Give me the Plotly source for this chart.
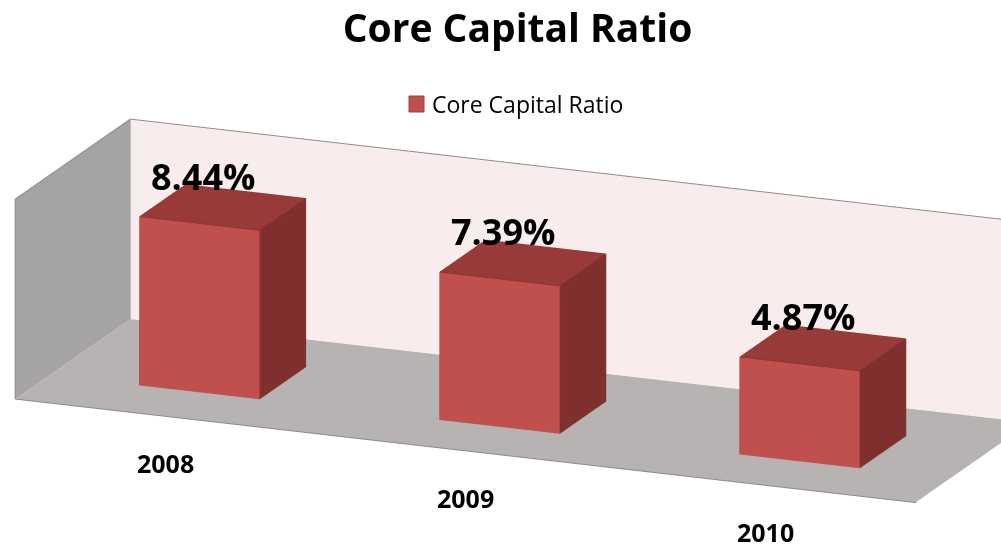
import plotly.graph_objects as go

# ---------------- data ----------------
categories = ["2008", "2009", "2010"]
values = [8.44, 7.39, 4.87]
value_labels = ["8.44%", "7.39%", "4.87%"]
series_name = "Core Capital Ratio"
chart_title = "Core Capital Ratio"

# ---------------- style ----------------
X_RANGE = (-0.5, len(categories) - 0.5)
Y_RANGE = (0.0, 1.0)
Z_RANGE = (0.0, 10.0)
BAR_HALF = 0.2
BAR_Y = (0.3, 0.7)

FRONT = "#c0504d"
TOP = "#983b38"
SIDE = "#7f302e"
EDGE = "#8a2e2b"
FLOOR = "#b8b3b3"
LEFTWALL = "#a6a3a3"
BACKWALL = "#f9ecec"
WALL_EDGE = "#8c8a8a"

FLAT = dict(ambient=1.0, diffuse=0.0, specular=0.0, roughness=1.0, fresnel=0.0)

I_ = [0, 0, 4, 4, 0, 0, 3, 3, 0, 0, 1, 1]
J_ = [1, 2, 5, 6, 1, 5, 2, 6, 3, 7, 2, 6]
K_ = [2, 3, 6, 7, 5, 4, 6, 7, 7, 4, 6, 5]


def box(x0, x1, y0, y1, z0, z1):
    xs = [x0, x1, x1, x0, x0, x1, x1, x0]
    ys = [y0, y0, y1, y1, y0, y0, y1, y1]
    zs = [z0, z0, z0, z0, z1, z1, z1, z1]
    return xs, ys, zs


def edges(xs, ys, zs):
    pairs = [(0, 1), (1, 2), (2, 3), (3, 0), (4, 5), (5, 6), (6, 7), (7, 4),
             (0, 4), (1, 5), (2, 6), (3, 7)]
    ex, ey, ez = [], [], []
    for a, b in pairs:
        ex += [xs[a], xs[b], None]
        ey += [ys[a], ys[b], None]
        ez += [zs[a], zs[b], None]
    return ex, ey, ez


fig = go.Figure()

# walls / floor (chart frame)
x0, x1 = X_RANGE
y0, y1 = Y_RANGE
z0, z1 = Z_RANGE
planes = [
    ([x0, x1, x1, x0], [y0, y0, y1, y1], [z0, z0, z0, z0], FLOOR),
    ([x0, x1, x1, x0], [y1, y1, y1, y1], [z0, z0, z1, z1], BACKWALL),
    ([x0, x0, x0, x0], [y0, y1, y1, y0], [z0, z0, z1, z1], LEFTWALL),
]
for px, py, pz, col in planes:
    fig.add_trace(go.Mesh3d(x=px, y=py, z=pz, i=[0, 0], j=[1, 2], k=[2, 3],
                            color=col, flatshading=True, lighting=FLAT,
                            hoverinfo="skip", showscale=False))

# frame outlines
fx = [x0, x1, x1, None, x0, x0, x0, x0, None, x0, x1, None]
fy = [y0, y0, y1, None, y0, y0, y1, y1, None, y1, y1, None]
fz = [z0, z0, z0, None, z0, z1, z1, z0, None, z1, z1, None]
fig.add_trace(go.Scatter3d(x=fx, y=fy, z=fz, mode="lines",
                           line=dict(color=WALL_EDGE, width=2),
                           hoverinfo="skip", showlegend=False))

# bars
for idx, (cat, val) in enumerate(zip(categories, values)):
    xs, ys, zs = box(idx - BAR_HALF, idx + BAR_HALF, BAR_Y[0], BAR_Y[1], 0.0, val)
    fc = [FLOOR, FLOOR, TOP, TOP, FRONT, FRONT, SIDE, SIDE, SIDE, SIDE, SIDE, SIDE]
    fig.add_trace(go.Mesh3d(x=xs, y=ys, z=zs, i=I_, j=J_, k=K_, facecolor=fc,
                            flatshading=True, lighting=FLAT, name=series_name,
                            hoverinfo="skip", showscale=False))
    ex, ey, ez = edges(xs, ys, zs)
    fig.add_trace(go.Scatter3d(x=ex, y=ey, z=ez, mode="lines",
                               line=dict(color=EDGE, width=1.5),
                               hoverinfo="skip", showlegend=False))

# annotations in 3D
scene_ann = []
for idx, (val, lab) in enumerate(zip(values, value_labels)):
    scene_ann.append(dict(x=idx + 0.05, y=0.2, z=val, text="<b>%s</b>" % lab,
                          showarrow=False, xanchor="center", yanchor="middle",
                          yshift=57, font=dict(family="Open Sans", size=36, color="black")))
for idx, cat in enumerate(categories):
    scene_ann.append(dict(x=idx, y=Y_RANGE[0], z=Z_RANGE[0], text="<b>%s</b>" % cat,
                          showarrow=False, xanchor="center", yanchor="middle",
                          yshift=-47, font=dict(family="Open Sans", size=25, color="black")))

# camera (orthographic)
ZOOM = 1.475
B = (0.3613, -0.8886, 0.2828)
C = (-0.0596 * ZOOM, 0.0, 0.0869 * ZOOM)
D = 3.0
eye = dict(x=C[0] + D * B[0], y=C[1] + D * B[1], z=C[2] + D * B[2])

ax = dict(visible=False, showbackground=False, showgrid=False, zeroline=False,
          showspikes=False)
fig.update_layout(
    width=1001, height=549,
    margin=dict(l=0, r=0, t=0, b=0, pad=0),
    paper_bgcolor="white",
    showlegend=False,
    title=dict(text="<b>%s</b>" % chart_title, x=0.517, xanchor="center",
               y=0.949, yanchor="middle", yref="container",
               font=dict(family="Open Sans", size=39, color="black")),
    scene=dict(
        domain=dict(x=[0, 1], y=[0, 1]),
        bgcolor="white",
        xaxis=dict(range=list(X_RANGE), **ax),
        yaxis=dict(range=list(Y_RANGE), **ax),
        zaxis=dict(range=list(Z_RANGE), **ax),
        aspectmode="manual",
        aspectratio=dict(x=2.4 * ZOOM, y=0.7541 * ZOOM, z=0.515 * ZOOM),
        camera=dict(eye=eye, center=dict(x=C[0], y=C[1], z=C[2]),
                    up=dict(x=0, y=0, z=1),
                    projection=dict(type="orthographic")),
        annotations=scene_ann,
    ),
    shapes=[dict(type="rect", xref="paper", yref="paper",
                 x0=409 / 1001, x1=424 / 1001, y0=1 - 112 / 549, y1=1 - 96 / 549,
                 fillcolor=FRONT, line=dict(color="#a0403d", width=1))],
    annotations=[dict(text=series_name, xref="paper", yref="paper",
                      x=430 / 1001, y=1 - 104 / 549, xanchor="left", yanchor="middle",
                      showarrow=False, font=dict(family="Open Sans", size=23, color="black"))],
)

fig.write_html("out.html", config=dict(displayModeBar=False))
